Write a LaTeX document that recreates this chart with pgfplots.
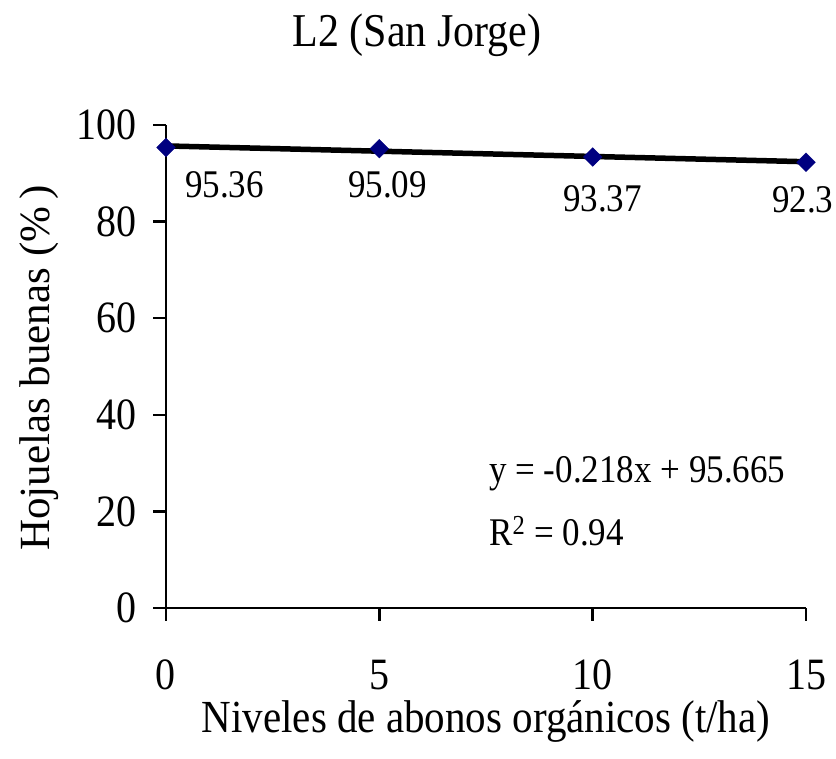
\documentclass[border=0pt]{standalone}
\usepackage{fontspec}
\setmainfont{Liberation Serif}
\usepackage{pgfplots}
\pgfplotsset{compat=1.18}
\usepackage{pgfplotstable}
\definecolor{navy}{RGB}{0,0,128}
\pgfplotstableread{
x y
0 95.36
5 95.09
10 93.37
15 92.3
}\datatable
\pgfplotstableread{
x y
0 95.665
15 92.395
}\trendtable
\begin{document}
\begin{tikzpicture}
\path[use as bounding box] (-166pt,-151pt) rectangle (670pt,608pt);
\begin{axis}[
  at={(0pt,0pt)}, anchor=south west,
  scale only axis, width=640pt, height=483pt,
  xmin=0, xmax=15, ymin=0, ymax=100,
  xtick={0,5,10,15}, ytick={0,20,40,60,80,100},
  axis lines*=left,
  axis line style={line width=2.5pt, black, -},
  tick align=outside,
  major tick length=13pt,
  every tick/.style={line width=2.5pt, black},
  /pgf/number format/assume math mode=true,
  ticklabel style={font=\fontsize{40}{48}\selectfont, inner sep=0pt, yscale=1.12},
  yticklabel style={anchor=east, xshift=-16pt},
  xticklabel style={anchor=base, yshift=-61pt},
  clip=false,
]
\addplot[only marks, mark=square*, mark size=6.6pt,
  mark options={rotate=45, fill=navy, draw=navy}] table[x=x,y=y] {\datatable};
\addplot[black, line width=5.5pt, no marks] table[x=x,y=y] {\trendtable};
\begin{scope}[every node/.style={font=\fontsize{35}{42}\selectfont, anchor=base west, inner sep=0pt, yscale=1.12}]
\node at (axis cs:0.445,84.89) {95.36};
\node at (axis cs:4.266,84.89) {95.09};
\node at (axis cs:9.305,81.99) {93.37};
\node at (axis cs:14.20,81.78) {92.3};
\node at (axis cs:7.57,25.88) {y = -0.218x + 95.665};
\node at (axis cs:7.57,13.04) {R\textsuperscript{2} = 0.94};
\end{scope}
\end{axis}
\node[anchor=base, font=\fontsize{42}{50}\selectfont, inner sep=0pt, yscale=1.12] at (251pt,561pt) {L2 (San Jorge)};
\node[anchor=base, font=\fontsize{41}{49}\selectfont, inner sep=0pt, yscale=1.12] at (320pt,-125pt) {Niveles de abonos orgánicos (t/ha)};
\node[anchor=base, rotate=90, font=\fontsize{43}{51}\selectfont, inner sep=0pt] at (-116pt,240pt) {Hojuelas buenas (\%\,)};
\end{tikzpicture}
\end{document}
